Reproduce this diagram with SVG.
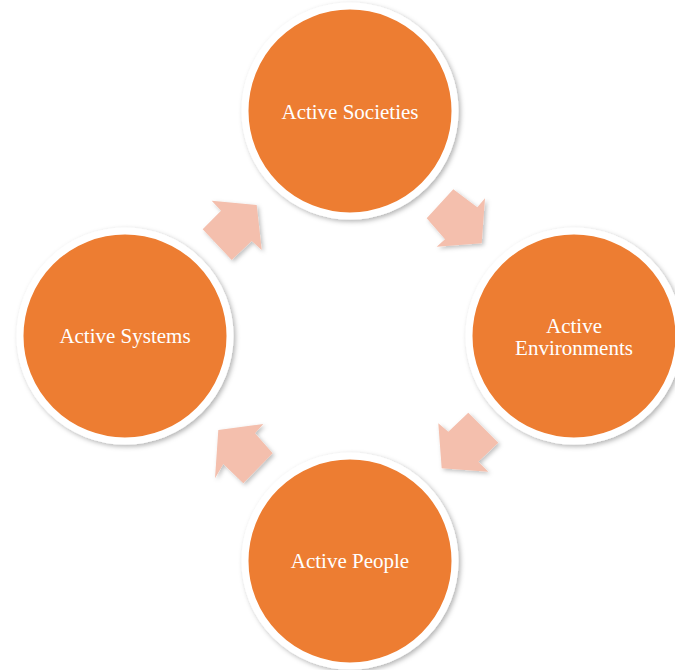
<svg xmlns="http://www.w3.org/2000/svg" width="675" height="670" viewBox="0 0 675 670">
<defs>
<filter id="sh" x="-20%" y="-20%" width="140%" height="140%">
<feDropShadow dx="2" dy="2" stdDeviation="2.5" flood-color="#000" flood-opacity="0.3"/>
</filter>
<filter id="ash" x="-20%" y="-20%" width="140%" height="140%">
<feDropShadow dx="2" dy="2" stdDeviation="2" flood-color="#000" flood-opacity="0.25"/>
</filter>
</defs>
<style>
.node circle{fill:#ED7D31;stroke:#FFFFFF;stroke-width:7;filter:url(#sh)}
.node text{fill:#FFFFFF;font-family:"Liberation Serif","DejaVu Serif",serif;font-size:21px;text-anchor:middle}
.arr{fill:#F4BFAD;filter:url(#ash)}
</style>
<rect width="675" height="670" fill="#FFFFFF"/>
<g id="connectors">
<polygon class="arr" points="211.7,200.7 221,210.7 202.7,229.3 231.7,260 251.7,241 261.7,250 256.7,205"/>
<polygon class="arr" points="485,198.3 477.3,207.3 453.3,189.3 426.7,218.3 445,239.3 436.7,246.7 481.7,243.3"/>
<polygon class="arr" points="438.3,423.3 448.3,431.7 468.3,412.7 498.3,442.7 478.3,461.7 488.3,471.7 441.7,468.3"/>
<polygon class="arr" points="263.3,424 255,433.3 272.7,453.3 243.3,483.3 223.3,464 215,478.3 218.3,430"/>
</g>
<g id="societies" class="node">
<circle cx="350" cy="111" r="105"/>
<text x="350" y="119">Active Societies</text>
</g>
<g id="environments" class="node">
<circle cx="574" cy="336" r="105"/>
<text x="574" y="333">Active</text>
<text x="574" y="355">Environments</text>
</g>
<g id="people" class="node">
<circle cx="350" cy="561" r="105"/>
<text x="350" y="568">Active People</text>
</g>
<g id="systems" class="node">
<circle cx="125" cy="336" r="105"/>
<text x="125" y="343">Active Systems</text>
</g>
</svg>
